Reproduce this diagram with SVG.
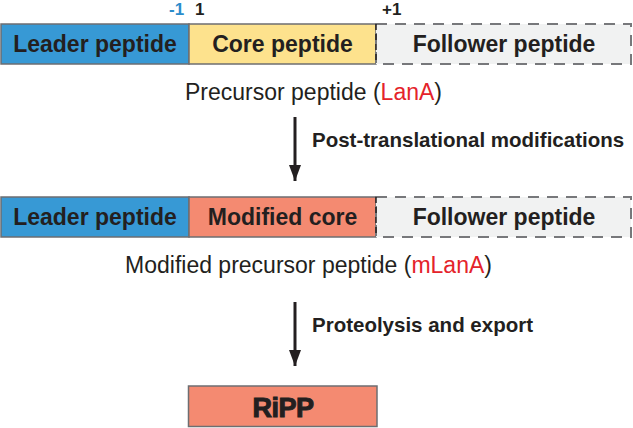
<svg xmlns="http://www.w3.org/2000/svg" width="633" height="428" viewBox="0 0 633 428">
<defs>
<style>
text{font-family:"Liberation Sans",Arial,sans-serif;fill:#231f20}
.seg{font-weight:bold;font-size:23px;text-anchor:middle}
.cap{font-size:23px;text-anchor:middle}
.lbl{font-weight:bold;font-size:20.5px}
.num{font-weight:bold;font-size:17px}
.red{fill:#e4232a}
.leader{fill:#3799d5;stroke:#6d6e71;stroke-width:1.5}
.core{fill:#fde28d;stroke:#6d6e71;stroke-width:1.5}
.mod{fill:#f48a71;stroke:#6d6e71;stroke-width:1.5}
.fol{fill:#f1f2f2;stroke:#77787b;stroke-width:2;stroke-dasharray:11 8}
.div{stroke:#231f20;stroke-width:1.5;stroke-dasharray:6 4;fill:none}
.arrow{stroke:#231f20;stroke-width:3;fill:none;marker-end:url(#ah)}
</style>
<marker id="ah" markerUnits="userSpaceOnUse" markerWidth="16" markerHeight="12" viewBox="0 0 16 12" refX="16" refY="6" orient="auto">
<path d="M0,0 L16,6 L0,12 Z" fill="#231f20"/>
</marker>
</defs>
<g id="positions">
<text class="num" x="169" y="15" style="fill:#2b8ccb">-1</text>
<text class="num" x="195" y="15">1</text>
<text class="num" x="382" y="15">+1</text>
</g>
<g id="precursor">
<g id="leader1"><rect class="leader" x="1" y="24" width="188" height="40"/><text class="seg" x="95" y="52">Leader peptide</text></g>
<g id="core1"><rect class="core" x="189" y="24" width="187" height="40"/><text class="seg" x="282.5" y="52">Core peptide</text></g>
<g id="follower1"><rect class="fol" x="376" y="24" width="255" height="40"/><line class="div" x1="376" y1="24" x2="376" y2="64"/><text class="seg" x="504" y="52">Follower peptide</text></g>
<text class="cap" x="313.5" y="99.5">Precursor peptide (<tspan class="red">LanA</tspan>)</text>
</g>
<g id="modified">
<g id="leader2"><rect class="leader" x="1" y="197" width="188" height="40"/><text class="seg" x="95" y="225">Leader peptide</text></g>
<g id="core2"><rect class="mod" x="189" y="197" width="187" height="40"/><text class="seg" x="282.5" y="225">Modified core</text></g>
<g id="follower2"><rect class="fol" x="376" y="197" width="255" height="40"/><line class="div" x1="376" y1="197" x2="376" y2="237"/><text class="seg" x="504" y="225">Follower peptide</text></g>
<text class="cap" x="308.5" y="273">Modified precursor peptide (<tspan class="red">mLanA</tspan>)</text>
</g>
<g id="ripp"><rect class="mod" x="188.5" y="386" width="188.5" height="40.5"/><text x="283" y="416.5" style="font-weight:bold;font-size:27px;text-anchor:middle;stroke:#231f20;stroke-width:1;letter-spacing:-0.5px">RiPP</text></g>
<g id="connectors">
<line class="arrow" x1="295" y1="117" x2="295" y2="181"/>
<text class="lbl" x="312" y="147">Post-translational modifications</text>
<line class="arrow" x1="295" y1="302" x2="295" y2="366"/>
<text class="lbl" x="312" y="332">Proteolysis and export</text>
</g>
</svg>
